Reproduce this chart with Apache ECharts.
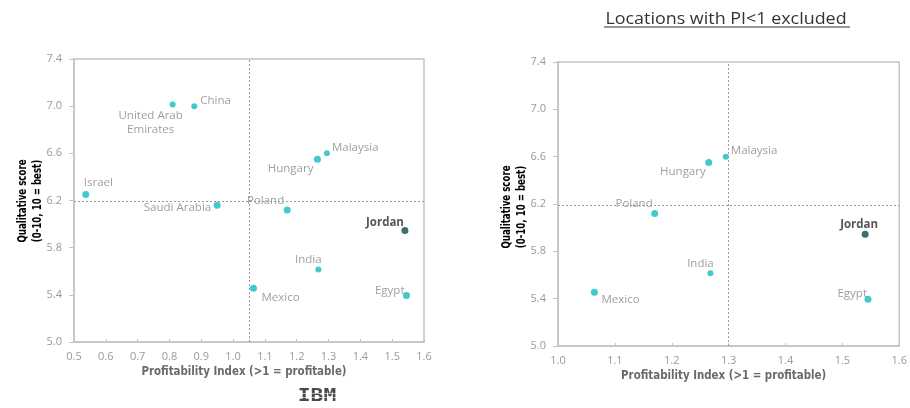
<!DOCTYPE html>
<html>
<head>
<meta charset="utf-8">
<script src="https://cdn.jsdelivr.net/npm/echarts@6/dist/echarts.min.js"></script>
<style>
  html, body { margin: 0; padding: 0; background: #ffffff; }
  #chart { width: 910px; height: 408px; }
</style>
</head>
<body>
<div id="chart"></div>
<script>
// Candidate locations: profitability index vs. qualitative score
const locations = ['United Arab Emirates', 'China', 'Malaysia', 'Hungary', 'Israel', 'Saudi Arabia',
                   'Poland', 'Jordan', 'India', 'Mexico', 'Egypt'];
const profitabilityIndex = [0.81, 0.878, 1.295, 1.265, 0.537, 0.95, 1.17, 1.54, 1.268, 1.064, 1.545];
const qualitativeScore = [7.015, 7.0, 6.6, 6.55, 6.25, 6.16, 6.12, 5.945, 5.615, 5.455, 5.395];

// Reference lines (quadrant dividers)
const piDividerAll = 1.05;
const piDividerProfitable = 1.3;
const scoreDivider = 6.19;

// Axis ranges / tick steps
const piRangeAll = [0.5, 1.6];
const piRangeProfitable = [1.0, 1.6];
const piStep = 0.1;
const scoreRange = [5.0, 7.4];
const scoreStep = 0.4;

const highlighted = 'Jordan';
const smallDots = ['United Arab Emirates', 'China', 'Malaysia', 'India'];
const labelText = { 'United Arab Emirates': 'United Arab\nEmirates' };

// Label placement relative to each dot: [dx, dy, align]
const labelsAll = {
  'United Arab Emirates': [-22, 18, 'center'],
  'China': [6, -5, 'left'],
  'Malaysia': [5, -6, 'left'],
  'Hungary': [-4, 9, 'right'],
  'Israel': [-2, -12, 'left'],
  'Saudi Arabia': [-6, 3, 'right'],
  'Poland': [-3, -9, 'right'],
  'Jordan': [-1, -8, 'right'],
  'India': [-10, -10, 'center'],
  'Mexico': [8, 9, 'left'],
  'Egypt': [-2, -5, 'right']
};
const labelsProfitable = {
  'Malaysia': [5, -6, 'left'],
  'Hungary': [-3, 9, 'right'],
  'Poland': [-2, -10, 'right'],
  'Jordan': [-6, -9, 'center'],
  'India': [-10, -10, 'center'],
  'Mexico': [7, 8, 'left'],
  'Egypt': [-1, -6, 'right']
};

const TEAL = '#13bcbf';
const DARK = '#0b4b4c';
const AXIS_GRAY = '#c4c4c4';
const TICK_GRAY = '#9a9a9a';
const LABEL_GRAY = '#878787';
const NARROW = "'Liberation Sans Narrow', 'DejaVu Sans Condensed', 'Noto Sans', sans-serif";
const BODY = "'Open Sans', 'Noto Sans', sans-serif";

function buildPoints(indices, layout) {
  return indices.map(i => {
    const name = locations[i];
    const isHi = name === highlighted;
    const lay = layout[name];
    return {
      name: name,
      value: [profitabilityIndex[i], qualitativeScore[i]],
      symbolSize: smallDots.includes(name) ? 6 : 7,
      itemStyle: { color: isHi ? DARK : TEAL },
      label: {
        show: true,
        position: 'inside',
        offset: [lay[0], lay[1]],
        align: lay[2],
        verticalAlign: 'middle',
        formatter: labelText[name] || name,
        color: isHi ? '#2b2b2b' : LABEL_GRAY,
        fontWeight: isHi ? 'bold' : 'normal',
        fontFamily: BODY,
        fontSize: 11.5,
        lineHeight: 14
      }
    };
  });
}

const allIdx = locations.map((_, i) => i);
const profitableIdx = allIdx.filter(i => profitabilityIndex[i] >= 1);

function xAxisFor(gridIndex, range) {
  return {
    type: 'value', gridIndex: gridIndex,
    min: range[0], max: range[1], interval: piStep,
    name: 'Profitability Index (>1 = profitable)',
    nameLocation: 'middle', nameGap: 24,
    nameTextStyle: { fontFamily: NARROW, fontWeight: 'bold', fontSize: 11.4, color: '#6a6a6a', padding: [0, 10, 0, 0] },
    axisLine: { show: true, lineStyle: { color: AXIS_GRAY, width: 1.5 } },
    axisTick: { show: true, inside: true, length: 3, lineStyle: { color: AXIS_GRAY } },
    axisLabel: { color: TICK_GRAY, fontSize: 11, fontFamily: BODY, margin: 9, formatter: v => v.toFixed(1) },
    splitLine: { show: false }
  };
}
function yAxisFor(gridIndex) {
  return {
    type: 'value', gridIndex: gridIndex,
    min: scoreRange[0], max: scoreRange[1], interval: scoreStep,
    axisLine: { show: true, lineStyle: { color: AXIS_GRAY, width: 1.5 } },
    axisTick: { show: true, inside: false, length: 5, lineStyle: { color: AXIS_GRAY } },
    axisLabel: { color: TICK_GRAY, fontSize: 11, fontFamily: BODY, margin: 12, formatter: v => v.toFixed(1) },
    splitLine: { show: false }
  };
}
function dividers(xValue) {
  return {
    silent: true, symbol: 'none', label: { show: false },
    lineStyle: { color: '#9c9c9c', type: [2, 2], width: 1 },
    data: [{ xAxis: xValue }, { yAxis: scoreDivider }]
  };
}

// Two-line rotated y-axis title, condensed along its reading direction
function yTitle(x, y) {
  return {
    type: 'text', x: x, y: y, rotation: Math.PI / 2, scaleX: 0.8,
    style: {
      text: '{a|Qualitative score}\n{b|(0-10, 10 = best)}',
      align: 'center', verticalAlign: 'middle',
      rich: {
        a: { fontFamily: NARROW, fontWeight: 'bold', fontSize: 12, color: '#777777', lineHeight: 15 },
        b: { fontFamily: NARROW, fontWeight: 'bold', fontSize: 12, color: '#111111', lineHeight: 15 }
      }
    }
  };
}

const chart = echarts.init(document.getElementById('chart'), null, { renderer: 'canvas' });
chart.setOption({
  animation: false,
  backgroundColor: '#ffffff',
  grid: [
    { left: 74, right: 486, top: 59, bottom: 66, show: true, borderColor: AXIS_GRAY, borderWidth: 1.5 },
    { left: 558, right: 2, top: 62, bottom: 62, show: true, borderColor: AXIS_GRAY, borderWidth: 1.5 }
  ],
  xAxis: [xAxisFor(0, piRangeAll), xAxisFor(1, piRangeProfitable)],
  yAxis: [yAxisFor(0), yAxisFor(1)],
  series: [
    { type: 'scatter', xAxisIndex: 0, yAxisIndex: 0, symbol: 'circle',
      data: buildPoints(allIdx, labelsAll), markLine: dividers(piDividerAll) },
    { type: 'scatter', xAxisIndex: 1, yAxisIndex: 1, symbol: 'circle',
      data: buildPoints(profitableIdx, labelsProfitable), markLine: dividers(piDividerProfitable) }
  ],
  graphic: [
    yTitle(30.5, 201),
    yTitle(514, 207),
    {
      type: 'text', x: 726, y: 19, scaleX: 1.085,
      style: { text: 'Locations with PI<1 excluded', align: 'center', verticalAlign: 'middle',
               fontFamily: BODY, fontSize: 16.5, fill: '#333333' }
    },
    { type: 'line', shape: { x1: 604, y1: 27, x2: 850, y2: 27 }, style: { stroke: '#333333', lineWidth: 1 } },
    {
      type: 'group', x: 317, y: 397, scaleX: 1.25,
      children: [
        { type: 'text', style: { text: 'IBM', align: 'center', verticalAlign: 'middle',
                                 fontFamily: "'DejaVu Sans Mono', monospace", fontWeight: 'bold', fontSize: 17, fill: '#4a4a4a' } },
        { type: 'rect', shape: { x: -20, y: -4, width: 40, height: 1 }, style: { fill: 'rgba(255,255,255,0.6)' } },
        { type: 'rect', shape: { x: -20, y: 0, width: 40, height: 1 }, style: { fill: 'rgba(255,255,255,0.6)' } },
        { type: 'rect', shape: { x: -20, y: 4, width: 40, height: 1 }, style: { fill: 'rgba(255,255,255,0.6)' } }
      ]
    }
  ]
});
</script>
</body>
</html>
